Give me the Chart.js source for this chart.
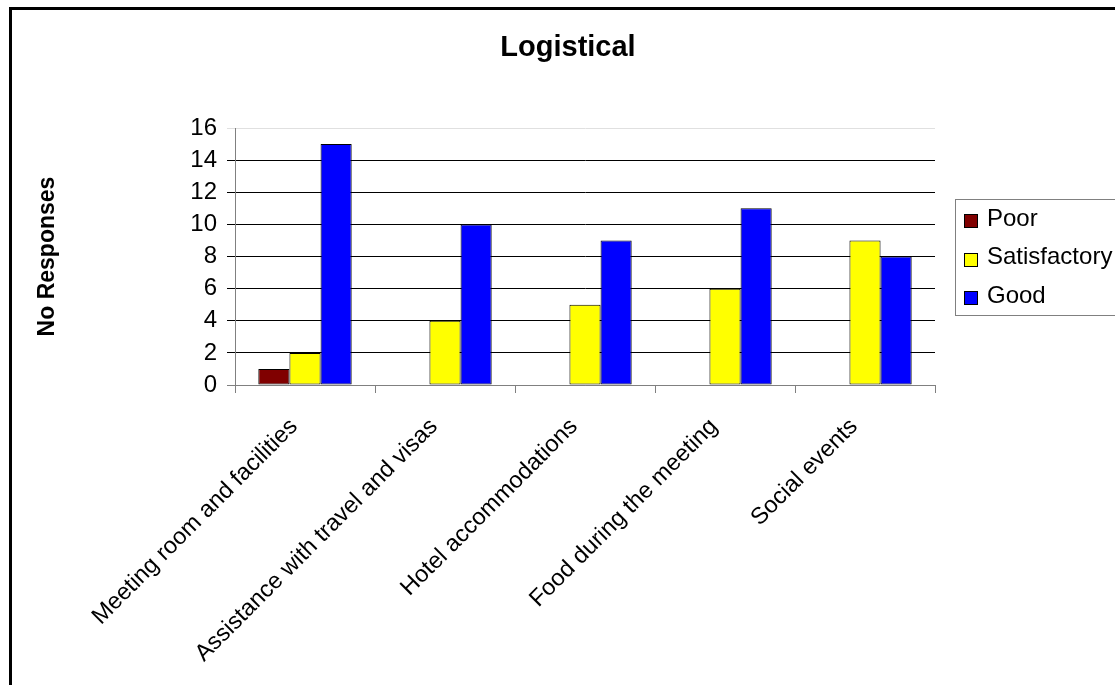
<!DOCTYPE html>
<html>
<head>
<meta charset="utf-8">
<script src="https://cdn.jsdelivr.net/npm/chart.js@4/dist/chart.umd.min.js"></script>
<style>
  html, body { margin: 0; padding: 0; background: #fff; }
  #wrap { width: 1115px; height: 685px; position: relative; }
</style>
</head>
<body>
<div id="wrap"><canvas id="chart"></canvas></div>
<script>
// data
const categories = [
  "Meeting room and facilities",
  "Assistance with travel and visas",
  "Hotel accommodations",
  "Food during the meeting",
  "Social events"
];
const poor = [1, null, null, null, null];
const satisfactory = [2, 4, 5, 6, 9];
const good = [15, 10, 9, 11, 8];
const yTicks = [0, 2, 4, 6, 8, 10, 12, 14, 16];

const FONT = "'Liberation Sans', Arial, sans-serif";

// page frame + white background
const framePlugin = {
  id: "frame",
  beforeDraw(chart) {
    const c = chart.ctx;
    c.save();
    c.fillStyle = "#fff";
    c.fillRect(0, 0, chart.width, chart.height);
    c.strokeStyle = "#000";
    c.lineWidth = 3;
    c.strokeRect(10.5, 8.5, chart.width + 20, chart.height + 20);
    c.restore();
  }
};

// boxed legend like the original, cut by the right edge
const boxLegend = {
  id: "boxLegend",
  afterDraw(chart) {
    const c = chart.ctx;
    const sets = chart.data.datasets;
    c.save();
    c.strokeStyle = "#808080";
    c.lineWidth = 1;
    c.strokeRect(955.5, 199.5, 220, 116);
    c.font = "24px " + FONT;
    c.textBaseline = "middle";
    sets.forEach((ds, i) => {
      const y = 214 + i * 38.5;
      c.fillStyle = ds.backgroundColor;
      c.fillRect(964.5, Math.round(y) + 0.5, 13, 13);
      c.strokeStyle = "#000";
      c.strokeRect(964.5, Math.round(y) + 0.5, 13, 13);
      c.fillStyle = "#000";
      c.fillText(ds.label, 987, y + 5);
    });
    c.restore();
  }
};

new Chart(document.getElementById("chart").getContext("2d"), {
  type: "bar",
  data: {
    labels: categories,
    datasets: [
      { label: "Poor", data: poor, backgroundColor: "#800000" },
      { label: "Satisfactory", data: satisfactory, backgroundColor: "#ffff00" },
      { label: "Good", data: good, backgroundColor: "#0000ff" }
    ]
  },
  options: {
    responsive: true,
    maintainAspectRatio: false,
    animation: false,
    devicePixelRatio: 1,
    // right padding negative so the title centres where the original has it;
    // the spare column on the right is held by an empty axis
    layout: { padding: { left: 0, top: 0, right: -21, bottom: 0 } },
    datasets: {
      bar: {
        borderColor: "#000",
        borderWidth: 1,
        borderSkipped: false,
        barPercentage: 1,
        categoryPercentage: 0.667
      }
    },
    plugins: {
      legend: { display: false },
      tooltip: { enabled: false },
      title: {
        display: true,
        text: "Logistical",
        color: "#000",
        font: { family: FONT, size: 29, weight: "bold" },
        padding: { top: 31, bottom: 62.2 }
      }
    },
    scales: {
      x: {
        grid: {
          offset: true,
          drawOnChartArea: false,
          drawTicks: true,
          tickLength: 8,
          color: "#808080"
        },
        border: { color: "#808080" },
        ticks: {
          color: "#000",
          font: { family: FONT, size: 23.5 },
          minRotation: 45,
          maxRotation: 45,
          padding: 20,
          labelOffset: -11,
          autoSkip: false
        },
        afterFit(scale) { scale.height = 300; }
      },
      y: {
        min: 0,
        max: 16,
        afterBuildTicks(scale) { scale.ticks = yTicks.map(v => ({ value: v })); },
        grid: {
          tickLength: 8,
          color: (ctx) => {
            if (ctx.tick && ctx.tick.value === 16) return "#e0e0e0";
            if (ctx.tick && ctx.tick.value === 0) return "#808080";
            return "#000";
          }
        },
        border: { color: "#808080" },
        ticks: {
          color: "#000",
          font: { family: FONT, size: 24 },
          padding: 10
        },
        title: {
          display: true,
          text: "No Responses",
          color: "#000",
          font: { family: FONT, size: 23, weight: "bold" },
          padding: { top: 34, bottom: 0 }
        },
        afterFit(scale) { scale.width = 235; }
      },
      spare: {
        type: "linear",
        position: "right",
        display: true,
        grid: { display: false },
        border: { display: false },
        ticks: { display: false },
        afterFit(scale) { scale.width = 201; }
      }
    }
  },
  plugins: [framePlugin, boxLegend]
});
</script>
</body>
</html>
